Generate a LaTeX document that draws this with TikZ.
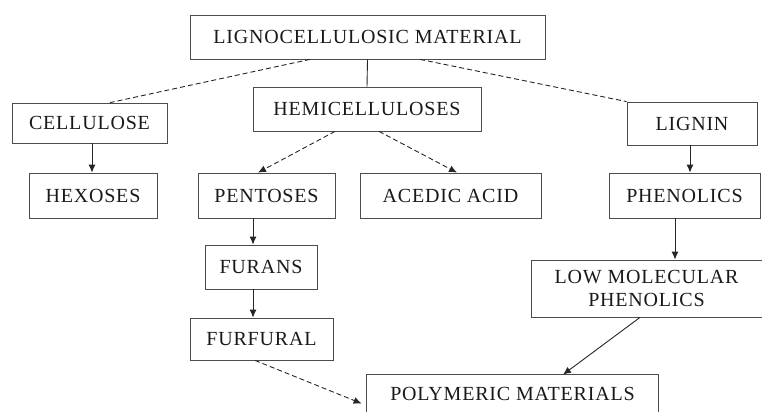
\documentclass[tikz,border=0pt]{standalone}
\usepackage{fontspec}
\setmainfont{Liberation Serif}[LetterSpace=4]
\usetikzlibrary{arrows.meta,calc}

\tikzset{
  box/.style={draw=black!70, line width=0.8pt, rectangle, inner sep=0pt,
              font=\fontsize{20}{23}\selectfont, text=black!90, align=center},
  bare/.style={box, draw=none},
  boxline/.style={draw=black!70, line width=0.8pt},
  link/.style={line width=0.9pt, draw=black!85},
  dlink/.style={link, dash pattern=on 5pt off 3pt},
  tip/.style={-{Latex[length=8pt,width=7pt]}}
}

\begin{document}
\begin{tikzpicture}[x=1pt,y=-1pt]
  \useasboundingbox (0,0) rectangle (762,412);

  % boxes: centre, width, height
  \node[box, minimum width=355, minimum height=44] (lig)   at (367.5,37)  {LIGNOCELLULOSIC MATERIAL};
  \node[box, minimum width=155, minimum height=40] (cell)  at (89.5,123)  {CELLULOSE};
  \node[box, minimum width=228, minimum height=44] (hemi)  at (367,109)   {HEMICELLULOSES};
  \node[box, minimum width=130, minimum height=43] (lign)  at (692,123.5) {LIGNIN};
  \node[box, minimum width=128, minimum height=45] (hex)   at (93,195.5)  {HEXOSES};
  \node[box, minimum width=137, minimum height=45] (pent)  at (266.5,195.5) {PENTOSES};
  \node[box, minimum width=181, minimum height=45] (acid)  at (450.5,195.5) {ACEDIC ACID};
  \node[box, minimum width=151, minimum height=45] (phen)  at (684.5,195.5) {PHENOLICS};
  \node[box, minimum width=112, minimum height=44] (fur)   at (261,267)   {FURANS};
  \node[box, minimum width=143, minimum height=42] (furf)  at (261.5,339) {FURFURAL};
  \node[box, minimum width=231, minimum height=57] (low)   at (646.5,288.5) {LOW MOLECULAR\\PHENOLICS};
  \node[bare, minimum width=291, minimum height=37] (poly) at (512.5,393.5) {POLYMERIC MATERIALS};
  \draw[boxline] (poly.south west) -- (poly.north west) -- (poly.north east) -- (poly.south east);

  % branches out of the raw material
  \draw[dlink] ($(lig.south)+(-57.5,0)$) -- ($(cell.north)+(20.5,0)$);
  \draw[dlink] ($(lig.south)+(52.5,0)$) -- (lign.north west);
  \draw[link] (lig.south) -- (hemi.north);

  % hemicellulose products
  \draw[dlink, tip] ($(hemi.south)+(-32,0)$) -- ($(pent.north)+(-8.5,0)$);
  \draw[dlink, tip] ($(hemi.south)+(12,0)$) -- ($(acid.north)+(6.5,0)$);

  % straight chains
  \draw[link, tip] ($(cell.south)+(2.5,0)$) -- ($(hex.north)+(-1,0)$);
  \draw[link, tip] ($(pent.south)+(-13.5,0)$) -- ($(fur.north)+(-8,0)$);
  \draw[link, tip] ($(fur.south)+(-8,0)$) -- ($(furf.north)+(-8.5,0)$);
  \draw[link, tip] ($(lign.south)+(-2,0)$) -- ($(phen.north)+(5.5,0)$);
  \draw[link, tip] ($(phen.south)+(-9.5,0)$) -- ($(low.north)+(28.5,0)$);

  % towards the polymeric materials
  \draw[dlink, tip] ($(furf.south)+(-6.5,0)$) -- ($(poly.west)+(-5,10)$);
  \draw[link, tip] ($(low.south)+(-6.5,0)$) -- ($(poly.north)+(50.5,0)$);
\end{tikzpicture}
\end{document}
